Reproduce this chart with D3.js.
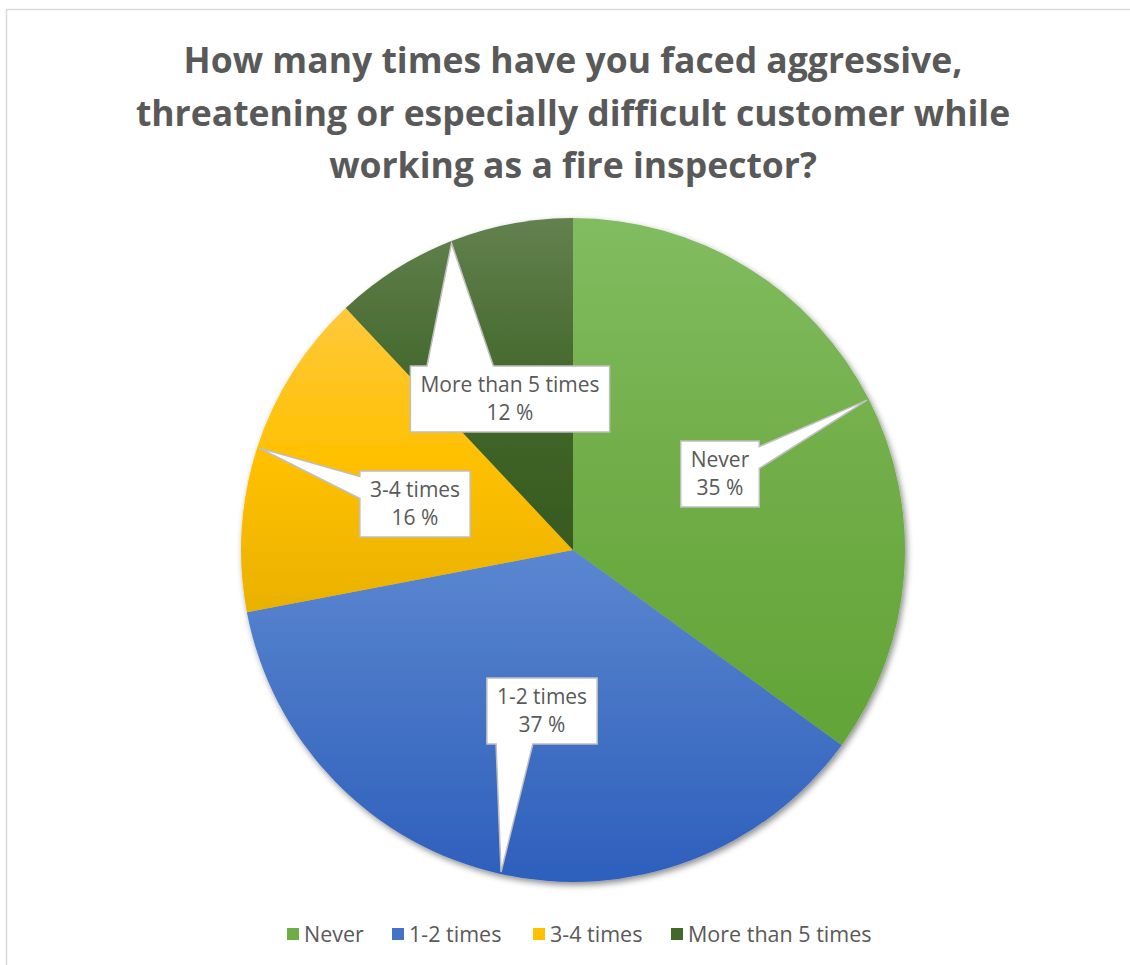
<!DOCTYPE html>
<html>
<head>
<meta charset="utf-8" />
<title>Fire inspector survey</title>
<script src="https://cdnjs.cloudflare.com/ajax/libs/d3/7.8.5/d3.min.js"></script>
<style>
  body { margin: 0; background: #fff; }
  svg text { font-family: "Open Sans", sans-serif; fill: #595959; }
</style>
</head>
<body>
<svg id="chart" width="1130" height="965"></svg>
<script>
// data
const categories = ["Never", "1-2 times", "3-4 times", "More than 5 times"];
const percents = [35, 37, 16, 12];
const titleLines = [
  "How many times have you faced aggressive,",
  "threatening or especially difficult customer while",
  "working as a fire inspector?"
];

// colours (base, gradient top, gradient bottom)
const baseColors = ["#70ad47", "#4472c4", "#ffc000", "#43682b"];
const topColors = ["#82bc60", "#5b87d1", "#ffc93c", "#63814f"];
const bottomColors = ["#62a437", "#2d5fbd", "#e9b100", "#365a1f"];

// where each label box sits, relative to pie centre
const labelOffsets = [[147, -76], [-31, 161], [-158, -46], [-63, -151]];

const svg = d3.select("#chart");
const cx = 573, cy = 550, r = 332;

// outer frame
svg.append("rect")
  .attr("x", 6.5).attr("y", 9.5)
  .attr("width", 1140).attr("height", 980)
  .attr("fill", "none").attr("stroke", "#d9d9d9").attr("stroke-width", 1.5);

// title
svg.append("g").selectAll("text")
  .data(titleLines)
  .join("text")
  .attr("x", cx)
  .attr("y", (d, i) => 73 + i * 52.5)
  .attr("text-anchor", "middle")
  .style("font-size", "35.5px")
  .style("font-weight", "bold")
  .text(d => d);

const defs = svg.append("defs");
const grads = defs.selectAll("linearGradient")
  .data(categories)
  .join("linearGradient")
  .attr("id", (d, i) => "g" + i)
  .attr("x1", 0).attr("y1", 0).attr("x2", 0).attr("y2", 1);
grads.append("stop").attr("offset", "0%").attr("stop-color", (d, i) => topColors[i]);
grads.append("stop").attr("offset", "50%").attr("stop-color", (d, i) => baseColors[i]);
grads.append("stop").attr("offset", "100%").attr("stop-color", (d, i) => bottomColors[i]);

const shadow = defs.append("filter").attr("id", "shadow")
  .attr("x", "-10%").attr("y", "-10%").attr("width", "120%").attr("height", "120%");
shadow.append("feDropShadow")
  .attr("dx", 2).attr("dy", 3).attr("stdDeviation", 3)
  .attr("flood-color", "#000").attr("flood-opacity", 0.45);

const pie = d3.pie().sort(null).value(d => d);
const arcs = pie(percents);
const arc = d3.arc().innerRadius(0).outerRadius(r);
const edgeArc = d3.arc().innerRadius(r - 2).outerRadius(r - 2);

const g = svg.append("g").attr("transform", `translate(${cx},${cy})`);
g.append("g").attr("filter", "url(#shadow)")
  .selectAll("path")
  .data(arcs)
  .join("path")
  .attr("d", arc)
  .attr("fill", (d, i) => `url(#g${i})`);

// callout boxes
function calloutPath(x, y, w, h, tx, ty) {
  const mx = x + w / 2, my = y + h / 2;
  const dx = tx - mx, dy = ty - my;
  const vertical = Math.abs(dy) > Math.abs(dx * h / w);
  const xa = dx < 0 ? x + w / 12 : x + 7 * w / 12;
  const xb = dx < 0 ? x + 5 * w / 12 : x + 11 * w / 12;
  const ya = dy < 0 ? y + h / 12 : y + 7 * h / 12;
  const yb = dy < 0 ? y + 5 * h / 12 : y + 11 * h / 12;
  const p = [[x, y]];
  if (vertical && dy < 0) p.push([xa, y], [tx, ty], [xb, y]);
  p.push([x + w, y]);
  if (!vertical && dx > 0) p.push([x + w, ya], [tx, ty], [x + w, yb]);
  p.push([x + w, y + h]);
  if (vertical && dy > 0) p.push([xb, y + h], [tx, ty], [xa, y + h]);
  p.push([x, y + h]);
  if (!vertical && dx < 0) p.push([x, yb], [tx, ty], [x, ya]);
  return "M" + p.map(q => q.join(",")).join("L") + "Z";
}

const labels = g.append("g").selectAll("g")
  .data(arcs)
  .join("g");

labels.each(function(d, i) {
  const sel = d3.select(this);
  const [ox, oy] = labelOffsets[i];
  const t1 = sel.append("text").attr("x", ox).attr("y", oy - 7)
    .attr("text-anchor", "middle").style("font-size", "21px").text(categories[i]);
  sel.append("text").attr("x", ox).attr("y", oy + 21)
    .attr("text-anchor", "middle").style("font-size", "21px").text(percents[i] + " %");
  const w = Math.max(t1.node().getComputedTextLength(), 40) + 20;
  const h = 66;
  const [tx, ty] = edgeArc.centroid(d);
  sel.insert("path", "text")
    .attr("d", calloutPath(ox - w / 2, oy - h / 2, w, h, tx, ty))
    .attr("fill", "#fff")
    .attr("stroke", "#bfbfbf")
    .attr("stroke-width", 1.5);
});

// legend
const legend = svg.append("g").attr("transform", "translate(0,934)");
const legendX = [287, 392, 533, 671];
const items = legend.selectAll("g")
  .data(categories)
  .join("g")
  .attr("transform", (d, i) => `translate(${legendX[i]},0)`);
items.append("rect")
  .attr("x", 0).attr("y", -6).attr("width", 12).attr("height", 12)
  .attr("fill", (d, i) => baseColors[i]);
items.append("text")
  .attr("x", 17).attr("y", 8)
  .style("font-size", "21.5px")
  .text(d => d);
</script>
</body>
</html>
